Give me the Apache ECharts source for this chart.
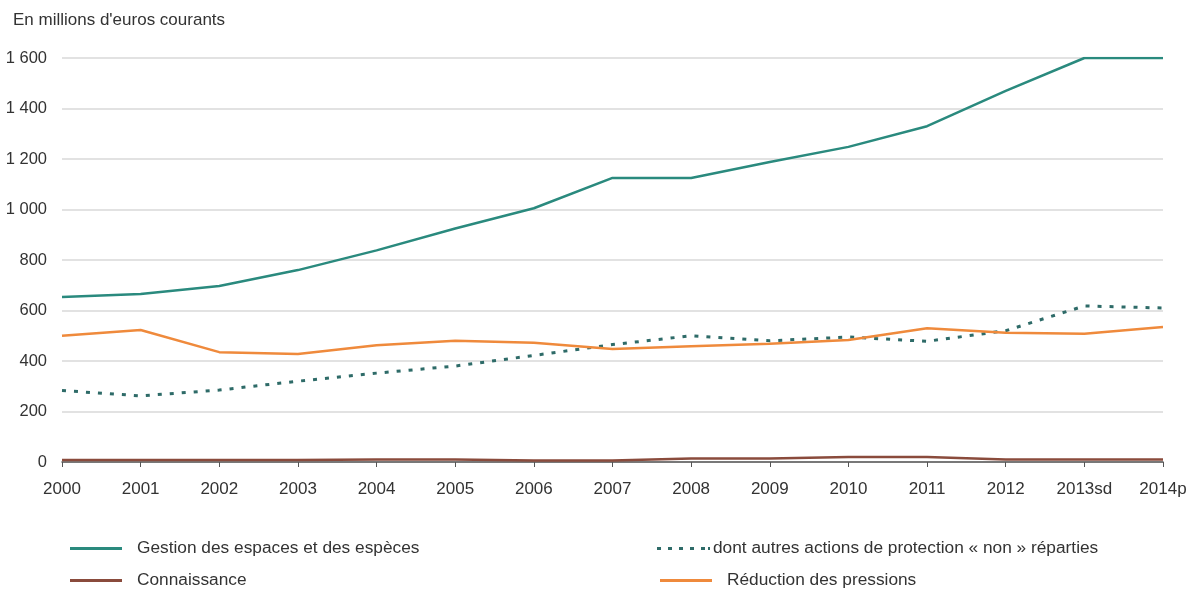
<!DOCTYPE html>
<html><head><meta charset="utf-8">
<script src="https://cdn.jsdelivr.net/npm/echarts@6/dist/echarts.min.js"></script>
<style>html,body{margin:0;padding:0;background:#fff}#c{width:1191px;height:589px}</style>
</head><body><div id="c"></div>
<script>
const categories = ['2000','2001','2002','2003','2004','2005','2006','2007','2008','2009','2010','2011','2012','2013sd','2014p'];
const gestion = [653, 665, 697, 760, 838, 925, 1005, 1125, 1125, 1188, 1248, 1330, 1470, 1600, 1600];
const autres = [283, 262, 285, 320, 352, 380, 422, 465, 500, 480, 495, 478, 520, 618, 610];
const connaissance = [8, 8, 8, 8, 10, 10, 6, 6, 14, 14, 20, 20, 10, 10, 10];
const reduction = [500, 523, 435, 428, 462, 480, 472, 448, 458, 468, 483, 530, 512, 508, 535];
const yTicks = [0, 200, 400, 600, 800, 1000, 1200, 1400, 1600];

const font = 'Liberation Sans, Arial, sans-serif';
const cGestion = '#2a8a7e', cAutres = '#2e6b68', cConn = '#8a4b3c', cRed = '#ef8a3c';

const chart = echarts.init(document.getElementById('c'));
function leg(name, left, top, w, pad, icon){
  return {data:[name], left:left, top:top, itemWidth:w, itemHeight:3, itemGap:0, padding:0,
    textStyle:{fontFamily:font, fontSize:17.3, color:'#333', padding:[0,0,0,pad]}, selectedMode:false,
    icon: icon || 'rect'};
}
chart.setOption({
  animation:false,
  textStyle:{fontFamily:font},
  title:{text:"En millions d'euros courants", left:13, top:12, padding:0,
    textStyle:{fontFamily:font, fontSize:17, fontWeight:'normal', color:'#333'}},
  legend:[
    leg('Gestion des espaces et des espèces', 70, 540, 52, 10),
    leg('Connaissance', 70, 572, 52, 10),
    leg('dont autres actions de protection « non » réparties', 657, 540, 53, -2,
      'path://M0,0h4v3h-4z M11,0h4v3h-4z M22,0h4v3h-4z M33,0h4v3h-4z M44,0h4v3h-4z M51,0h2v3h-2z'),
    leg('Réduction des pressions', 660, 572, 52, 10)
  ],
  grid:{left:62, right:28, top:58, bottom:127, containLabel:false},
  xAxis:{type:'category', data:categories, boundaryGap:false,
    axisLine:{lineStyle:{color:'#555', width:1.5}},
    axisTick:{show:true, length:5, lineStyle:{color:'#555'}, alignWithLabel:true},
    axisLabel:{fontFamily:font, fontSize:17, color:'#333', margin:19}},
  yAxis:{type:'value', min:0, max:1600, interval:200,
    axisLine:{show:false}, axisTick:{show:false},
    splitLine:{lineStyle:{color:'#d9d9d9', width:1.5}},
    axisLabel:{fontFamily:font, fontSize:16.5, color:'#333', margin:15,
      formatter:v=>String(v).replace(/\B(?=(\d{3})+(?!\d))/g,' ')}},
  series:[
    {name:'Gestion des espaces et des espèces', type:'line', data:gestion, showSymbol:false, symbol:'none',
      lineStyle:{color:cGestion, width:2.5}, itemStyle:{color:cGestion}},
    {name:'dont autres actions de protection « non » réparties', type:'line', data:autres, showSymbol:false, symbol:'none',
      lineStyle:{color:cAutres, width:3, type:[4,8]}, itemStyle:{color:cAutres}},
    {name:'Connaissance', type:'line', data:connaissance, showSymbol:false, symbol:'none',
      lineStyle:{color:cConn, width:2.5}, itemStyle:{color:cConn}},
    {name:'Réduction des pressions', type:'line', data:reduction, showSymbol:false, symbol:'none',
      lineStyle:{color:cRed, width:2.5}, itemStyle:{color:cRed}}
  ]
});
</script></body></html>
